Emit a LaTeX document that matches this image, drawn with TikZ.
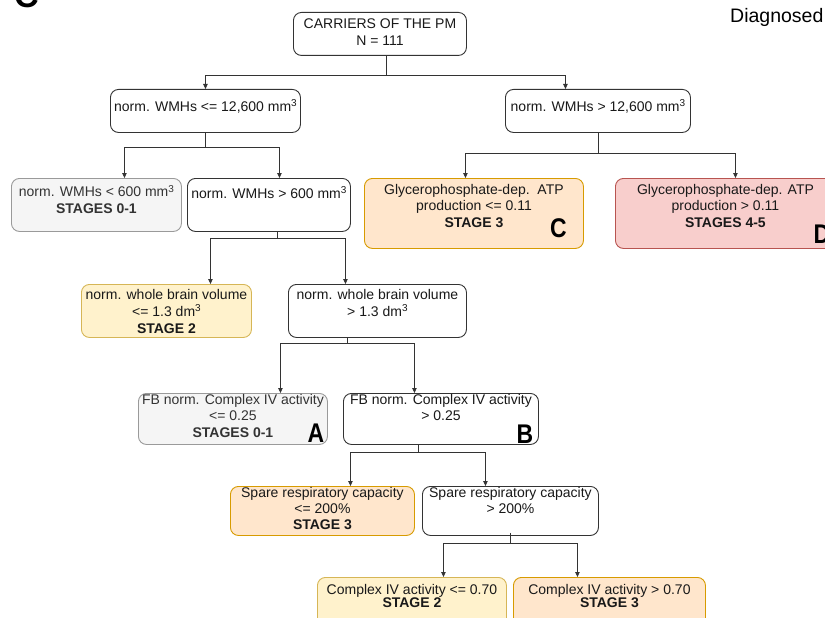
\documentclass[tikz,border=0pt]{standalone}
\usepackage{fontspec}
\setmainfont{Liberation Sans}
\usetikzlibrary{arrows.meta}
\definecolor{gfill}{HTML}{F5F5F5}\definecolor{gline}{HTML}{9A9A9A}
\definecolor{yfill}{HTML}{FFF2CC}\definecolor{yline}{HTML}{D6B656}
\definecolor{ofill}{HTML}{FFE6CC}\definecolor{oline}{HTML}{D79B00}
\definecolor{rfill}{HTML}{F8CECC}\definecolor{rline}{HTML}{B85450}
\definecolor{wline}{HTML}{333333}
\newcommand{\cubed}{\raisebox{4.6pt}{\fontsize{10}{10}\selectfont 3}}
\begin{document}
\begin{tikzpicture}[x=1pt,y=-1pt,
  boxbase/.style={rounded corners=8pt, line width=0.9pt, anchor=north west, inner sep=0pt},
  wbox/.style={boxbase, draw=wline, fill=white},
  gbox/.style={boxbase, draw=gline, fill=gfill},
  ybox/.style={boxbase, draw=yline, fill=yfill},
  obox/.style={boxbase, draw=oline, fill=ofill},
  rbox/.style={boxbase, draw=rline, fill=rfill},
  txt/.style={anchor=north, align=center, inner sep=0pt, text=black!90,
     font=\fontsize{14}{#1}\selectfont, execute at begin node={\rule{0pt}{13pt}}},
  txt/.default=17,
  bigl/.style={anchor=base, inner sep=0pt, font=\fontsize{27}{27}\selectfont\bfseries},
  ln/.style={line width=0.8pt, draw=black!80},
  arr/.style={ln, -{Triangle[length=5pt,width=4.5pt]}}]
\clip (0,0) rectangle (825,618);
\useasboundingbox (0,0) rectangle (825,618);
% header fragments
\node[anchor=base west, inner sep=0pt, font=\fontsize{34}{34}\selectfont\bfseries] (panel) at (14,8) {C};
\node[anchor=base west, inner sep=0pt, font=\fontsize{19.5}{19.5}\selectfont] (diag) at (730,23) {Diagnosed};
% boxes
\node[wbox, minimum width=173pt, minimum height=43pt] (root) at (293,12) {};
\node[txt] (roott) at ([yshift=-7pt]root.north) {CARRIERS OF THE PM\\N = 111};
\node[wbox, minimum width=190pt, minimum height=43pt] (n1) at (110,89) {};
\node[txt] (n1t) at ([yshift=-9pt]n1.north) {norm. WMHs <= 12,600 mm\cubed};
\node[wbox, minimum width=185pt, minimum height=43pt] (n2) at (505,89) {};
\node[txt] (n2t) at ([yshift=-9pt]n2.north) {norm. WMHs > 12,600 mm\cubed};
\node[gbox, minimum width=170pt, minimum height=53pt] (n3) at (11,178) {};
\node[txt, text=black!80] (n3t) at ([yshift=-7pt]n3.north) {norm. WMHs < 600 mm\cubed\\\textbf{STAGES 0-1}};
\node[wbox, minimum width=163pt, minimum height=53pt] (n4) at (187,178) {};
\node[txt] (n4t) at ([yshift=-7pt]n4.north) {norm. WMHs > 600 mm\cubed};
\node[obox, minimum width=219pt, minimum height=70pt] (nc) at (364,178) {};
\node[txt=16.5] (nct) at ([yshift=-6pt]nc.north) {Glycerophosphate-dep.\ \ ATP\\production <= 0.11\\\textbf{STAGE 3}};
\node[bigl] (lc) at (558.5,237) {\scalebox{0.85}[1]{C}};
\node[rbox, minimum width=220pt, minimum height=70pt] (nd) at (615,178) {};
\node[txt=16.5] (ndt) at ([yshift=-6pt]nd.north) {Glycerophosphate-dep. ATP\\production > 0.11\\\textbf{STAGES 4-5}};
\node[bigl] (ld) at (822,243) {\scalebox{0.85}[1]{D}};
\node[ybox, minimum width=170pt, minimum height=53pt] (n5) at (81,284) {};
\node[txt] (n5t) at ([yshift=-5pt]n5.north) {norm. whole brain volume\\<= 1.3 dm\cubed\\\textbf{STAGE 2}};
\node[wbox, minimum width=178pt, minimum height=53pt] (n6) at (288,284) {};
\node[txt] (n6t) at ([yshift=-5pt]n6.north) {norm. whole brain volume\\> 1.3 dm\cubed};
\node[gbox, minimum width=189pt, minimum height=51pt] (na) at (138,393) {};
\node[txt=16.5, text=black!80] (nat) at ([yshift=-1pt]na.north) {FB norm. Complex IV activity\\<= 0.25\\\textbf{STAGES 0-1}};
\node[bigl] (la) at (316,442) {\scalebox{0.85}[1]{A}};
\node[wbox, minimum width=195pt, minimum height=51pt] (nb) at (343,393) {};
\node[txt=16.5] (nbt) at ([yshift=-1pt]nb.north) {FB norm. Complex IV activity\\> 0.25};
\node[bigl] (lb) at (525,443) {\scalebox{0.85}[1]{B}};
\node[obox, minimum width=184pt, minimum height=49pt] (n7) at (230,486) {};
\node[txt=16] (n7t) at ([yshift=-1pt]n7.north) {Spare respiratory capacity\\<= 200\%\\\textbf{STAGE 3}};
\node[wbox, minimum width=176pt, minimum height=49pt] (n8) at (422,486) {};
\node[txt=16] (n8t) at ([yshift=-1pt]n8.north) {Spare respiratory capacity\\> 200\%};
\node[ybox, minimum width=189pt, minimum height=53pt] (n9) at (317,577) {};
\node[txt=13.5] (n9t) at ([yshift=-7pt]n9.north) {Complex IV activity <= 0.70\\\textbf{STAGE 2}};
\node[obox, minimum width=192pt, minimum height=53pt] (n10) at (513,577) {};
\node[txt=13.5] (n10t) at ([yshift=-7pt]n10.north) {Complex IV activity > 0.70\\\textbf{STAGE 3}};
% connectors
\coordinate (j0) at (386,75);
\draw[ln] (root.south -| j0) -- (j0);
\draw[arr] (j0) -| (n1.north);
\draw[arr] (j0) -| ([xshift=-32.5pt]n2.north);
\coordinate (j1) at (205,147);
\draw[ln] (n1.south -| j1) -- (j1);
\draw[arr] (j1) -| ([xshift=28pt]n3.north);
\draw[arr] (j1) -| ([xshift=10.5pt]n4.north);
\coordinate (j2) at (598,153);
\draw[ln] (n2.south -| j2) -- (j2);
\draw[arr] (j2) -| ([xshift=-8.5pt]nc.north);
\draw[arr] (j2) -| ([xshift=10pt]nd.north);
\coordinate (j3) at (277,238);
\draw[ln] (n4.south -| j3) -- (j3);
\draw[arr] (j3) -| ([xshift=44pt]n5.north);
\draw[arr] (j3) -| ([xshift=-32pt]n6.north);
\coordinate (j4) at (347,343);
\draw[ln] (n6.south -| j4) -- (j4);
\draw[arr] (j4) -| ([xshift=47.5pt]na.north);
\draw[arr] (j4) -| ([xshift=-26.5pt]nb.north);
\coordinate (j5) at (418,452);
\draw[ln] (nb.south -| j5) -- (j5);
\draw[arr] (j5) -| ([xshift=28pt]n7.north);
\draw[arr] (j5) -| ([xshift=-25pt]n8.north);
\coordinate (j6) at (510,543);
\draw[ln] ([yshift=3pt]n8.south -| j6) -- (j6);
\draw[arr] (j6) -| ([xshift=31.5pt]n9.north);
\draw[arr] (j6) -| ([xshift=-32pt]n10.north);
\end{tikzpicture}
\end{document}
